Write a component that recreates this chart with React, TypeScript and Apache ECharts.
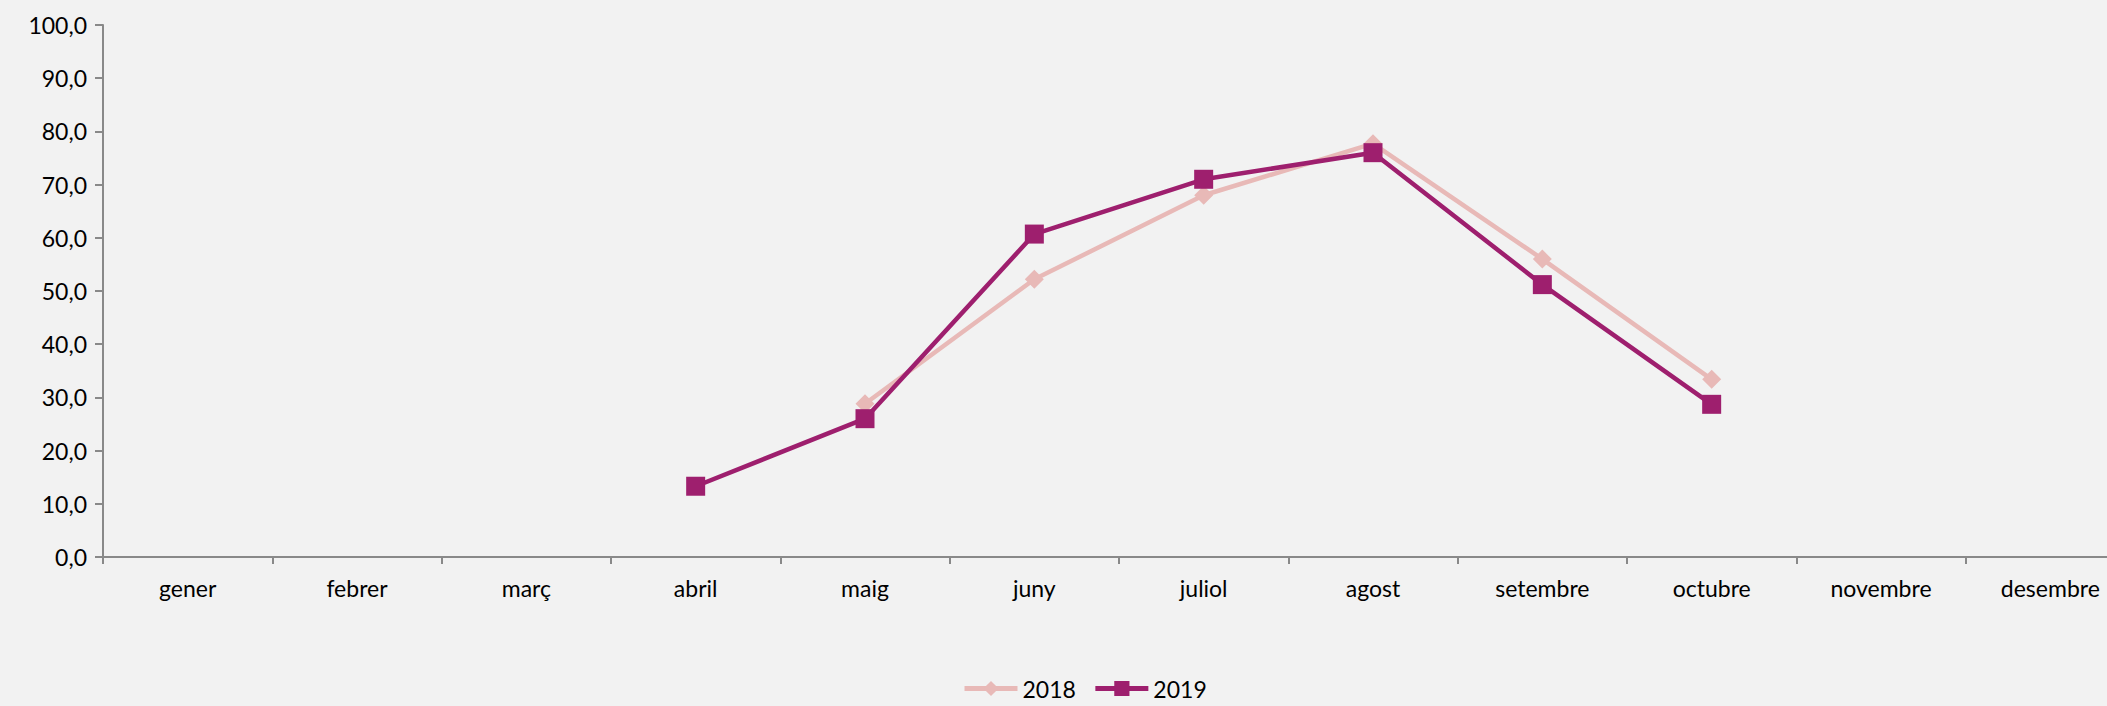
import React, { useEffect, useRef } from "react";
import * as echarts from "echarts";

const months = ["gener", "febrer", "març", "abril", "maig", "juny", "juliol", "agost", "setembre", "octubre", "novembre", "desembre"];
const values2018 = [null, null, null, null, 28.8, 52.2, 68.0, 77.7, 56.0, 33.4, null, null];
const values2019 = [null, null, null, 13.3, 26.0, 60.7, 71.0, 76.0, 51.2, 28.7, null, null];
const yTicks = { min: 0, max: 100, interval: 10 };

const FONT = "Lato";

export default function App() {
  const ref = useRef<HTMLDivElement>(null);
  useEffect(() => {
    if (!ref.current) return;
    const chart = echarts.init(ref.current, null, { renderer: "svg" });
    chart.setOption({
      animation: false,
      backgroundColor: "#F2F2F2",
      textStyle: { fontFamily: FONT },
      grid: { left: 103, top: 25, right: -28, bottom: 149, containLabel: false, outerBoundsMode: "none" },
      legend: {
        top: 677,
        left: 962,
        padding: 0,
        itemWidth: 53,
        itemHeight: 19,
        itemGap: 17,
        lineStyle: { width: 5 },
        textStyle: { fontFamily: FONT, fontSize: 23, color: "#000" },
        data: ["2018", "2019"],
      },
      xAxis: {
        type: "category",
        data: months,
        boundaryGap: true,
        axisLine: { lineStyle: { color: "#898989", width: 2 } },
        axisTick: { show: true, length: 7, lineStyle: { color: "#898989", width: 2 } },
        axisLabel: { fontFamily: FONT, fontSize: 23, color: "#000", margin: 19 },
        splitLine: { show: false },
      },
      yAxis: {
        type: "value",
        min: yTicks.min,
        max: yTicks.max,
        interval: yTicks.interval,
        axisLine: { show: true, lineStyle: { color: "#898989", width: 2 } },
        axisTick: { show: true, length: 8, lineStyle: { color: "#898989", width: 2 } },
        axisLabel: {
          fontFamily: FONT,
          fontSize: 23,
          color: "#000",
          margin: 16,
          formatter: (v: number) => v.toFixed(1).replace(".", ","),
        },
        splitLine: { show: false },
      },
      series: [
        {
          name: "2018",
          type: "line",
          data: values2018,
          connectNulls: false,
          symbol: "diamond",
          symbolSize: 19,
          lineStyle: { color: "#E8B9B7", width: 4.5 },
          itemStyle: { color: "#E8B9B7" },
        },
        {
          name: "2019",
          type: "line",
          data: values2019,
          connectNulls: false,
          symbol: "rect",
          symbolSize: 19,
          lineStyle: { color: "#9E1F6E", width: 4.5 },
          itemStyle: { color: "#9E1F6E" },
        },
      ],
    });
    return () => chart.dispose();
  }, []);
  return <div ref={ref} style={{ position: "absolute", left: 0, top: 0, width: 2107, height: 706 }} />;
}
